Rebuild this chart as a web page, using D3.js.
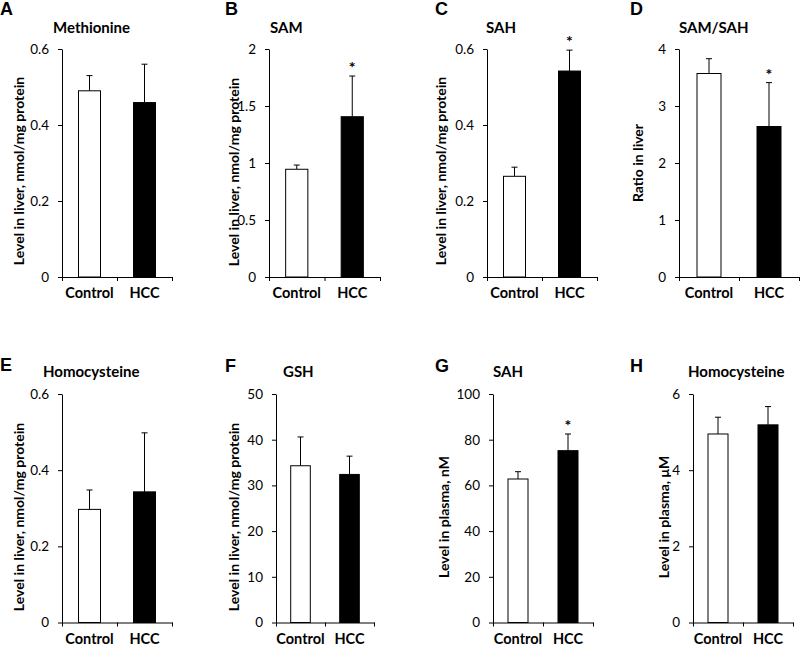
<!DOCTYPE html>
<html>
<head>
<meta charset="utf-8">
<script src="https://cdn.jsdelivr.net/npm/d3@7"></script>
<style>
  body { margin: 0; background: #fff; }
  svg { display: block; }
  .tick text { font-family: Lato, "Open Sans", sans-serif; font-size: 13.5px; fill: #000; }
  .domain, .tick line { stroke: #000; stroke-width: 1px; }
</style>
</head>
<body>
<script>

// data
var groups = ["Control", "HCC"];
var letters = ["A", "B", "C", "D", "E", "F", "G", "H"];
var titles = ["Methionine", "SAM", "SAH", "SAM/SAH", "Homocysteine", "GSH", "SAH", "Homocysteine"];
var yLabels = ["Level in liver, nmol/mg protein", "Level in liver, nmol/mg protein",
  "Level in liver, nmol/mg protein", "Ratio in liver", "Level in liver, nmol/mg protein",
  "Level in liver, nmol/mg protein", "Level in plasma, nM", "Level in plasma, \u03bcM"];
var yMax = [0.6, 2, 0.6, 4, 0.6, 50, 100, 6];
var yTickCount = [3, 4, 3, 4, 3, 5, 5, 3];
var controlMean = [0.49, 0.945, 0.265, 3.57, 0.297, 34.3, 62.8, 4.95];
var controlErr = [0.04, 0.037, 0.024, 0.26, 0.051, 6.3, 3.2, 0.44];
var hccMean = [0.459, 1.406, 0.542, 2.64, 0.343, 32.4, 75.2, 5.19];
var hccErr = [0.101, 0.357, 0.055, 0.77, 0.155, 4.0, 7.3, 0.48];
var significant = [false, true, true, true, false, false, true, false];

// panel placement (pixels)
var layout = [
  {x0: 62,  x1: 172, top: 49,  bottom: 277,   lx: 0,   ly: 15,  tx: 53,  ty: 33,  yx: 19,  yc: 171},
  {x0: 269, x1: 380, top: 49,  bottom: 277,   lx: 225, ly: 15,  tx: 270, ty: 33,  yx: 234, yc: 172},
  {x0: 487, x1: 597, top: 49,  bottom: 277,   lx: 435, ly: 15,  tx: 486, ty: 33,  yx: 441, yc: 171},
  {x0: 679, x1: 799, top: 49,  bottom: 277,   lx: 630, ly: 15,  tx: 679, ty: 33,  yx: 638, yc: 163},
  {x0: 62,  x1: 172, top: 394, bottom: 622.5, lx: 0,   ly: 371, tx: 43,  ty: 377, yx: 19,  yc: 517},
  {x0: 276, x1: 374, top: 394, bottom: 622.5, lx: 225, ly: 372, tx: 283, ty: 377, yx: 234, yc: 517},
  {x0: 493, x1: 593, top: 394, bottom: 622.5, lx: 435, ly: 372, tx: 493, ty: 377, yx: 444, yc: 517},
  {x0: 693, x1: 793, top: 394, bottom: 622.5, lx: 630, ly: 372, tx: 688, ty: 377, yx: 664, yc: 517}
];

var svg = d3.select("body")
  .append("svg")
  .attr("width", 800)
  .attr("height", 645);

var font = "Lato, 'Open Sans', sans-serif";

letters.forEach(function(letter, i) {
  var L = layout[i];
  var g = svg.append("g");

  var x = d3.scaleBand()
    .domain(groups)
    .range([L.x0, L.x1])
    .paddingInner(0.6)
    .paddingOuter(0.3);

  var y = d3.scaleLinear()
    .domain([0, yMax[i]])
    .range([L.bottom, L.top]);

  var bars = [
    {group: groups[0], mean: controlMean[i], err: controlErr[i], fill: "#fff"},
    {group: groups[1], mean: hccMean[i], err: hccErr[i], fill: "#000"}
  ];

  // error bars (upper only)
  bars.forEach(function(d) {
    var cx = x(d.group) + x.bandwidth() / 2;
    g.append("line")
      .attr("x1", cx).attr("x2", cx)
      .attr("y1", y(d.mean)).attr("y2", y(d.mean + d.err))
      .attr("stroke", "#000");
    g.append("line")
      .attr("x1", cx - 3).attr("x2", cx + 3)
      .attr("y1", y(d.mean + d.err)).attr("y2", y(d.mean + d.err))
      .attr("stroke", "#000");
  });

  g.selectAll(".bar")
    .data(bars)
    .enter()
    .append("rect")
    .attr("class", "bar")
    .attr("x", function(d) { return x(d.group); })
    .attr("width", x.bandwidth())
    .attr("y", function(d) { return y(d.mean); })
    .attr("height", function(d) { return y(0) - y(d.mean); })
    .attr("fill", function(d) { return d.fill; })
    .attr("stroke", "#000");

  if (significant[i]) {
    var h = bars[1];
    g.append("text")
      .attr("x", x(h.group) + x.bandwidth() / 2)
      .attr("y", y(h.mean + h.err) - 3)
      .attr("text-anchor", "middle")
      .style("font-family", font)
      .style("font-weight", "bold")
      .style("font-size", "16px")
      .text("*");
  }

  // y axis
  g.append("g")
    .attr("transform", "translate(" + L.x0 + ",0)")
    .call(d3.axisLeft(y)
      .ticks(yTickCount[i])
      .tickFormat(d3.format("~g"))
      .tickSize(4)
      .tickSizeOuter(0)
      .tickPadding(9));

  // x axis: line with ticks at edges and between groups
  var xl = d3.scaleLinear().domain([0, groups.length]).range([L.x0, L.x1]);
  g.append("g")
    .attr("transform", "translate(0," + L.bottom + ")")
    .call(d3.axisBottom(xl)
      .tickValues(d3.range(groups.length + 1))
      .tickFormat("")
      .tickSize(4)
      .tickSizeOuter(0));

  g.selectAll(".grp")
    .data(groups)
    .enter()
    .append("text")
    .attr("x", function(d) { return x(d) + x.bandwidth() / 2; })
    .attr("y", L.bottom + 21)
    .attr("text-anchor", "middle")
    .style("font-family", font)
    .style("font-weight", "bold")
    .style("font-size", "14.5px")
    .text(function(d) { return d; });

  g.append("text")
    .attr("transform", "translate(" + L.yx + "," + L.yc + ") rotate(-90)")
    .attr("dy", "0.35em")
    .attr("text-anchor", "middle")
    .style("font-family", font)
    .style("font-weight", "bold")
    .style("font-size", "14px")
    .text(yLabels[i]);

  g.append("text")
    .attr("x", L.tx)
    .attr("y", L.ty)
    .style("font-family", font)
    .style("font-weight", "bold")
    .style("font-size", "15px")
    .text(titles[i]);

  g.append("text")
    .attr("x", L.lx)
    .attr("y", L.ly)
    .style("font-family", "'Liberation Sans', Arial, sans-serif")
    .style("font-weight", "bold")
    .style("font-size", "18px")
    .text(letter);
});

</script>
</body>
</html>
